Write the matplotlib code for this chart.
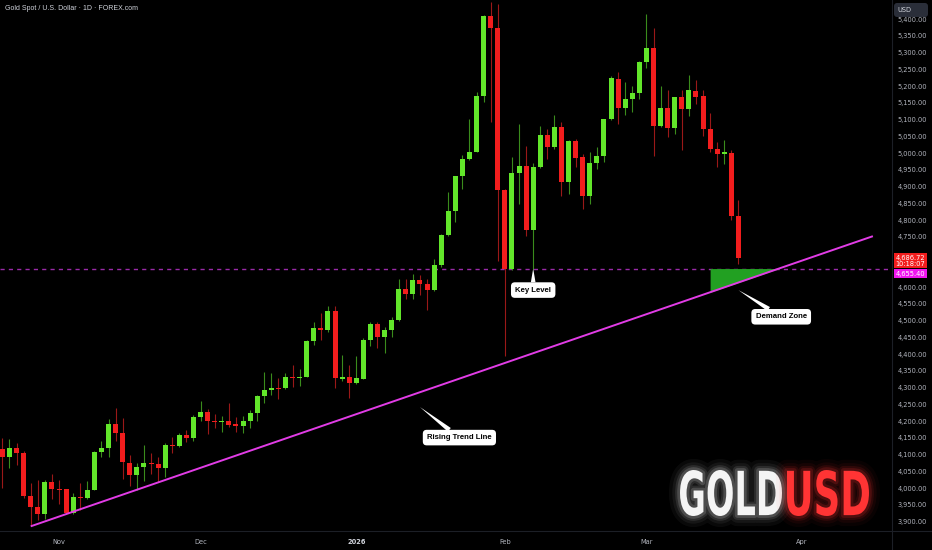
import numpy as np
import pandas as pd
import matplotlib
matplotlib.use("Agg")
import matplotlib.pyplot as plt
from matplotlib.lines import Line2D
from matplotlib.patches import PathPatch, FancyBboxPatch
from matplotlib.textpath import TextPath
from matplotlib.font_manager import FontProperties
from matplotlib.transforms import Affine2D, IdentityTransform
from matplotlib.ticker import FuncFormatter

# Gold spot daily bars, 22 Oct 2025 -> 19 Mar 2026 (no bars on 25 Dec / 1 Jan)
first_day = "2025-10-22"
holidays = ["2025-12-25", "2026-01-01"]

opens = [4118, 4094, 4121, 4106, 3975, 3945, 3924, 4019, 3997, 3997,
         3925, 3974, 3971, 3995, 4109, 4121, 4191, 4166, 4076, 4040,
         4062, 4074, 4071, 4060, 4129, 4125, 4158, 4151, 4213, 4226,
         4201, 4196, 4201, 4191, 4184, 4201, 4223, 4276, 4294, 4300,
         4298, 4333, 4328, 4333, 4438, 4478, 4473, 4528, 4326, 4333,
         4314, 4326, 4443, 4490, 4450, 4472, 4503, 4593, 4580, 4622,
         4610, 4590, 4665, 4757, 4826, 4931, 4981, 5004, 5171, 5410,
         5372, 4889, 4655, 4941, 4961, 4771, 4959, 5053, 5018, 5078,
         4914, 5036, 4988, 4871, 4970, 4990, 5101, 5221, 5136, 5160,
         5178, 5272, 5315, 5081, 5135, 5075, 5166, 5133, 5186, 5170,
         5073, 5013, 4998, 5000, 4811]
highs = [4150, 4148, 4136, 4111, 4014, 4023, 4024, 4042, 4024, 3998,
         3984, 4014, 4021, 4110, 4141, 4206, 4239, 4208, 4098, 4076,
         4128, 4106, 4094, 4136, 4153, 4165, 4174, 4219, 4259, 4236,
         4221, 4216, 4254, 4211, 4216, 4233, 4279, 4348, 4345, 4329,
         4343, 4368, 4356, 4442, 4495, 4522, 4545, 4545, 4398, 4368,
         4395, 4448, 4495, 4495, 4482, 4512, 4625, 4625, 4638, 4635,
         4625, 4685, 4759, 4884, 4932, 4993, 5103, 5183, 5412, 5452,
         5445, 4892, 4988, 5086, 5021, 4969, 5080, 5073, 5113, 5093,
         5038, 5043, 4996, 5003, 5018, 5103, 5230, 5243, 5213, 5200,
         5274, 5415, 5372, 5200, 5188, 5166, 5188, 5233, 5218, 5188,
         5120, 5033, 5038, 5008, 4861]
lows = [4001, 4061, 4069, 3970, 3886, 3905, 3908, 3967, 3952, 3923,
        3922, 3934, 3967, 3994, 4094, 4094, 4141, 4028, 4007, 3994,
        4022, 4042, 4017, 4034, 4106, 4122, 4139, 4141, 4201, 4161,
        4179, 4169, 4181, 4168, 4166, 4178, 4201, 4253, 4279, 4266,
        4296, 4301, 4306, 4331, 4428, 4443, 4465, 4299, 4321, 4269,
        4311, 4326, 4423, 4418, 4404, 4450, 4500, 4565, 4565, 4575,
        4532, 4588, 4660, 4754, 4794, 4894, 4978, 5002, 5153, 5093,
        4679, 4395, 4652, 4849, 4754, 4655, 4957, 4981, 5013, 4871,
        4879, 4959, 4834, 4847, 4954, 4973, 5098, 5088, 5113, 5123,
        5161, 5253, 4990, 5078, 5048, 5056, 5008, 5111, 5146, 5050,
        5003, 4960, 4966, 4799, 4670]
closes = [4093, 4121, 4106, 3975, 3945, 3924, 4019, 3997, 3994, 3925,
          3974, 3971, 3995, 4109, 4121, 4191, 4166, 4078, 4040, 4062,
          4074, 4071, 4060, 4129, 4125, 4158, 4151, 4213, 4226, 4201,
          4196, 4201, 4189, 4184, 4201, 4223, 4276, 4294, 4300, 4296,
          4333, 4328, 4333, 4438, 4478, 4473, 4528, 4328, 4333, 4314,
          4328, 4443, 4490, 4450, 4472, 4503, 4593, 4580, 4622, 4610,
          4590, 4665, 4757, 4826, 4931, 4981, 5004, 5171, 5410, 5372,
          4889, 4655, 4941, 4961, 4771, 4959, 5053, 5018, 5078, 4914,
          5036, 4986, 4871, 4970, 4990, 5101, 5223, 5136, 5160, 5178,
          5272, 5315, 5081, 5135, 5075, 5166, 5133, 5188, 5168, 5073,
          5013, 4998, 5003, 4811, 4686.72]

key_level = 4655.40
last_price = 4686.72
countdown = "10:18:07"
# trend line anchors (bar index, price)
trend_x = [4, 123]
trend_y = [3886, 4752]
zone_start = 100  # first bar of the demand zone

UP, DOWN = "#62e62a", "#f21d1d"
UP_WICK, DOWN_WICK = "#3a8c1c", "#9a1818"
MAGENTA = "#e23ce6"

n = len(closes)
days = pd.bdate_range(first_day, "2026-04-30")
days = days[~days.isin(pd.to_datetime(holidays))]
idx = np.arange(n)

fig = plt.figure(figsize=(9.32, 5.5), dpi=100, facecolor="black")
ax = fig.add_axes([0, 19 / 550, 892 / 932, 531 / 550])
ax.set_facecolor("black")

o = np.array(opens, float)
c = np.array(closes, float)
up = c >= o
ax.vlines(idx[up], np.array(lows)[up], np.array(highs)[up], color=UP_WICK, lw=0.8, zorder=2)
ax.vlines(idx[~up], np.array(lows)[~up], np.array(highs)[~up], color=DOWN_WICK, lw=0.8, zorder=2)
body = np.maximum(np.abs(c - o), 2.5)
ax.bar(idx, body, bottom=np.minimum(o, c), width=0.7,
       color=np.where(up, UP, DOWN), linewidth=0, zorder=3)

# key level + rising trend line + demand zone
ax.axhline(key_level, color="#9a2aa8", lw=1.0, ls=(0, (3, 3)), zorder=1)
slope = (trend_y[1] - trend_y[0]) / (trend_x[1] - trend_x[0])
ax.plot(trend_x, trend_y, color=MAGENTA, lw=1.4, zorder=4, solid_capstyle="butt")
x_cross = trend_x[0] + (key_level - trend_y[0]) / slope
zx = np.linspace(zone_start, x_cross, 50)
ax.fill_between(zx, trend_y[0] + slope * (zx - trend_x[0]), key_level,
                color="#22a022", lw=0, zorder=3)

ax.set_xlim(-0.34, 125.7)
ax.set_ylim(3872, 5457)

# price scale (labels under the price tags are hidden, as on the platform)
ax.yaxis.tick_right()
ax.set_yticks(np.arange(3900, 5401, 50))
ax.yaxis.set_major_formatter(FuncFormatter(
    lambda v, p: "" if abs(v - last_price) < 30 or abs(v - key_level) < 30 else f"{v:,.2f}"))
ax.tick_params(axis="y", length=0, pad=4, labelsize=4.8, labelcolor="#b2b5be")

# month ticks
month_pos, month_lab = [], []
for i, d in enumerate(days):
    if d.day <= 3 and (i == 0 or days[i - 1].month != d.month):
        month_pos.append(i)
        month_lab.append("2026" if d.month == 1 else d.strftime("%b"))
ax.set_xticks(month_pos)
ax.set_xticklabels(month_lab)
ax.tick_params(axis="x", length=0, pad=6, labelsize=4.8, labelcolor="#b2b5be")
for t in ax.get_xticklabels():
    if t.get_text() == "2026":
        t.set_fontweight("bold")
        t.set_color("#d1d4dc")

for s in ax.spines.values():
    s.set_visible(False)
fig.add_artist(Line2D([0, 1], [19 / 550] * 2, transform=fig.transFigure, color="#1c1f26", lw=0.8))
fig.add_artist(Line2D([892 / 932] * 2, [0, 1], transform=fig.transFigure, color="#1c1f26", lw=0.8))

# price tags on the scale
ax.annotate(f"{last_price:,.2f}\n{countdown}", xy=(1, last_price), xycoords=ax.get_yaxis_transform(),
            xytext=(2.5, 2.5), textcoords="offset points", va="top", ha="left",
            fontsize=4.8, color="white", linespacing=1.0, annotation_clip=False, zorder=6,
            bbox=dict(boxstyle="square,pad=0.25", fc=DOWN, ec="none"))
ax.annotate(f"{key_level:,.2f}", xy=(1, key_level), xycoords=ax.get_yaxis_transform(),
            xytext=(2.5, -3.6), textcoords="offset points", va="center", ha="left",
            fontsize=4.8, color="white", annotation_clip=False, zorder=5,
            bbox=dict(boxstyle="square,pad=0.25", fc="#f016f0", ec="none"))

# callouts
callout = dict(fontsize=5.6, fontweight="bold", color="black", ha="center", va="center",
               family=["Liberation Sans", "DejaVu Sans"], zorder=7,
               bbox=dict(boxstyle="round,pad=0.55,rounding_size=0.5", fc="white", ec="none"))
wedge = dict(arrowstyle="wedge,tail_width=0.6,shrink_factor=0.5", fc="white", ec="none", shrinkA=0, shrinkB=0)
ax.annotate("Key Level", xy=(75, key_level), xytext=(0, -15.5), textcoords="offset points",
            arrowprops=wedge, **callout)
ax.annotate("Demand Zone", xy=(104, 4591), xytext=(30.8, -19.2), textcoords="offset points",
            arrowprops=wedge, **callout)
ax.annotate("Rising Trend Line", xy=(59, 4242), xytext=(28.4, -22), textcoords="offset points",
            arrowprops=wedge, **callout)

# header + currency tag
fig.text(5 / 932, 1 - 9 / 550, "Gold Spot / U.S. Dollar · 1D · FOREX.com", color="#d1d4dc",
         fontsize=5.0, va="center", ha="left", family=["Liberation Sans", "DejaVu Sans"])
fig.add_artist(FancyBboxPatch((894, 533), 34, 14, boxstyle="round,pad=0,rounding_size=3",
                              transform=IdentityTransform(), fc="#2a2e39", ec="none"))
fig.text(897.5 / 932, 1 - 9.5 / 550, "USD", color="#d1d4dc", fontsize=4.8, va="center", ha="left")

# GOLDUSD watermark with glow
fp = FontProperties(family="DejaVu Sans", weight="bold")
for word, x0, x1, col in [("GOLD", 680, 782, "#f4f4f4"), ("USD", 787, 869, "#ff3434")]:
    tp = TextPath((0, 0), word, size=100, prop=fp)
    ext = tp.get_extents()
    tr = Affine2D().translate(-ext.x0, -ext.y0).scale((x1 - x0) / ext.width, 46 / ext.height).translate(x0, 34)
    for lw, a in [(16, 0.04), (11, 0.06), (7, 0.1), (4, 0.16)]:
        fig.add_artist(PathPatch(tp, transform=tr, fc="none", ec=col, lw=lw, alpha=a, joinstyle="round"))
    fig.add_artist(PathPatch(tp, transform=tr, fc=col, ec="none"))

fig.savefig("out.png", dpi=100, facecolor="black")
